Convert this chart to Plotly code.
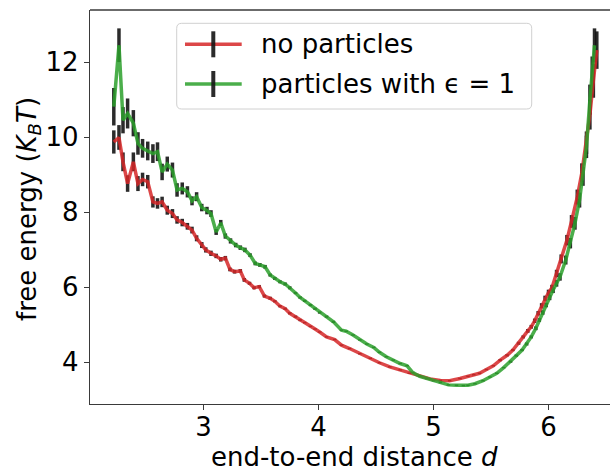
import plotly.graph_objects as go

# ---------------- data ----------------
d_none = [2.22, 2.265, 2.30, 2.34, 2.39, 2.43, 2.47, 2.515, 2.56, 2.60,
          2.64, 2.685, 2.73, 2.77, 2.815, 2.86, 2.90, 2.94, 2.985, 3.02,
          3.065, 3.11, 3.15, 3.19, 3.23, 3.27, 3.32, 3.355, 3.40, 3.44,
          3.485, 3.53, 3.58, 3.62, 3.665, 3.71, 3.75, 3.80, 3.84, 3.88,
          3.93, 3.97, 4.01, 4.07, 4.14, 4.20, 4.27, 4.36, 4.45, 4.53,
          4.62, 4.71, 4.79, 4.88, 4.97, 5.06, 5.14, 5.23, 5.30, 5.35,
          5.40, 5.46, 5.52, 5.58, 5.64, 5.69, 5.74, 5.78, 5.82, 5.85,
          5.88, 5.91, 5.94, 5.97, 6.00, 6.03, 6.07, 6.11, 6.16, 6.20,
          6.25, 6.29, 6.33, 6.36, 6.39, 6.42]
f_none = [9.87, 9.99, 9.34, 8.76, 9.34, 8.76, 8.87, 8.81, 8.27, 8.23,
          8.27, 8.05, 7.96, 7.79, 7.72, 7.62, 7.52, 7.30, 7.12, 6.99,
          6.90, 6.83, 6.74, 6.77, 6.47, 6.41, 6.43, 6.19, 6.10, 5.98,
          6.01, 5.76, 5.70, 5.62, 5.49, 5.42, 5.30, 5.21, 5.12, 5.05,
          4.95, 4.88, 4.80, 4.67, 4.60, 4.45, 4.36, 4.22, 4.10, 3.98,
          3.87, 3.79, 3.70, 3.63, 3.55, 3.51, 3.50, 3.56, 3.62, 3.66,
          3.70, 3.80, 3.90, 4.05, 4.18, 4.32, 4.50, 4.67, 4.83, 4.94,
          5.10, 5.30, 5.50, 5.70, 5.85, 5.98, 6.36, 6.75, 7.25, 7.75,
          8.40, 9.05, 9.85, 10.6, 11.5, 12.32]
e_none = [0.31, 0.33, 0.25, 0.22, 0.25, 0.20, 0.18, 0.18, 0.15, 0.14,
          0.14, 0.12, 0.12, 0.10, 0.10, 0.09, 0.09, 0.08, 0.08, 0.07,
          0.07, 0.06, 0.06, 0.06, 0.05, 0.05, 0.05, 0.05, 0.04, 0.04,
          0.04, 0.04, 0.04, 0.03, 0.03, 0.03, 0.03, 0.03, 0.03, 0.02,
          0.02, 0.02, 0.02, 0.02, 0.02, 0.02, 0.02, 0.02, 0.02, 0.02,
          0.02, 0.02, 0.02, 0.02, 0.02, 0.02, 0.02, 0.02, 0.02, 0.02,
          0.02, 0.02, 0.02, 0.03, 0.03, 0.03, 0.04, 0.04, 0.05, 0.05,
          0.06, 0.06, 0.07, 0.07, 0.08, 0.08, 0.10, 0.12, 0.14, 0.17,
          0.20, 0.25, 0.30, 0.40, 0.45, 0.50]

d_part = [2.22, 2.265, 2.30, 2.34, 2.39, 2.43, 2.47, 2.515, 2.56, 2.60,
          2.64, 2.685, 2.73, 2.77, 2.815, 2.86, 2.90, 2.94, 2.985, 3.03,
          3.065, 3.11, 3.15, 3.19, 3.235, 3.28, 3.32, 3.36, 3.405, 3.45,
          3.49, 3.535, 3.58, 3.62, 3.665, 3.71, 3.75, 3.80, 3.84, 3.88,
          3.93, 3.97, 4.01, 4.07, 4.13, 4.20, 4.24, 4.30, 4.36, 4.42,
          4.48, 4.53, 4.59, 4.65, 4.71, 4.77, 4.82, 4.88, 4.94, 5.00,
          5.06, 5.13, 5.20, 5.26, 5.30, 5.36, 5.43, 5.49, 5.55, 5.61,
          5.67, 5.72, 5.77, 5.81, 5.85, 5.89, 5.92, 5.95, 5.98, 6.01,
          6.04, 6.07, 6.10, 6.15, 6.19, 6.23, 6.27, 6.30, 6.33, 6.36,
          6.38, 6.40]
f_part = [10.81, 12.45, 10.45, 10.63, 10.37, 9.83, 9.70, 9.63, 9.56, 9.61,
          9.07, 9.28, 9.12, 8.59, 8.63, 8.54, 8.30, 8.41, 8.12, 8.04,
          7.96, 7.47, 7.71, 7.36, 7.23, 7.12, 7.05, 6.99, 6.85, 6.63,
          6.59, 6.54, 6.32, 6.23, 6.14, 6.08, 5.98, 5.84, 5.72, 5.63,
          5.52, 5.42, 5.32, 5.21, 5.07, 4.85, 4.82, 4.72, 4.59, 4.48,
          4.39, 4.26, 4.14, 4.05, 3.96, 3.90, 3.72, 3.62, 3.56, 3.50,
          3.45, 3.39, 3.38, 3.37, 3.38, 3.42, 3.50, 3.60, 3.70, 3.85,
          4.01, 4.17, 4.32, 4.48, 4.67, 4.90, 5.12, 5.32, 5.52, 5.72,
          5.92, 6.10, 6.27, 6.72, 7.17, 7.70, 8.32, 8.95, 9.74, 11.0,
          11.7, 12.45]
e_part = [0.50, 0.45, 0.35, 0.40, 0.35, 0.30, 0.25, 0.25, 0.25, 0.25,
          0.22, 0.20, 0.20, 0.18, 0.16, 0.15, 0.12, 0.12, 0.10, 0.10,
          0.09, 0.08, 0.08, 0.07, 0.07, 0.06, 0.06, 0.06, 0.05, 0.05,
          0.05, 0.05, 0.04, 0.04, 0.04, 0.04, 0.04, 0.03, 0.03, 0.03,
          0.03, 0.03, 0.03, 0.03, 0.03, 0.02, 0.02, 0.02, 0.02, 0.02,
          0.02, 0.02, 0.02, 0.02, 0.02, 0.02, 0.02, 0.02, 0.02, 0.02,
          0.02, 0.02, 0.02, 0.02, 0.02, 0.02, 0.02, 0.02, 0.02, 0.02,
          0.03, 0.03, 0.03, 0.04, 0.04, 0.05, 0.05, 0.06, 0.06, 0.07,
          0.08, 0.09, 0.10, 0.12, 0.14, 0.17, 0.20, 0.25, 0.30, 0.40,
          0.45, 0.45]

series_names = ["no particles", "particles with \u03f5 = 1"]
x_ticks = [3, 4, 5, 6]
y_ticks = [4, 6, 8, 10, 12]

assert len(d_none) == len(f_none) == len(e_none)
assert len(d_part) == len(f_part) == len(e_part)

# ---------------- style ----------------
W, H = 610, 472
ML, MR, MT, MB = 90, 0, 10, 68
PW, PH = W - ML - MR, H - MT - MB
FONT = "DejaVu Sans"
FS = 26
RED = "rgba(214,39,40,0.85)"
GREEN = "rgba(44,160,44,0.85)"
ERRC = "rgba(20,20,20,0.9)"
SPINE = "#3a3a3a"
LW = 3.5


def px(xp):
    return (xp - ML) / PW


def py(yp):
    return (H - MB - yp) / PH


fig = go.Figure()

# error bars (drawn beneath the lines)
for d, f, e in [(d_none, f_none, e_none), (d_part, f_part, e_part)]:
    fig.add_trace(go.Scatter(
        x=d, y=f, mode="markers",
        marker=dict(size=1, color="rgba(0,0,0,0)"),
        error_y=dict(type="data", array=e, color=ERRC, thickness=3.5, width=0),
        showlegend=False, hoverinfo="skip"))

for d, f, c, n in [(d_none, f_none, RED, series_names[0]),
                   (d_part, f_part, GREEN, series_names[1])]:
    fig.add_trace(go.Scatter(x=d, y=f, mode="lines", name=n,
                             line=dict(color=c, width=LW), showlegend=False))

axis_common = dict(
    showgrid=False, zeroline=False, showline=True, linecolor=SPINE,
    linewidth=1.3, ticks="outside", ticklen=5, tickwidth=1.3,
    tickcolor=SPINE, tickfont=dict(family=FONT, size=FS, color="black"),
    mirror=False)

fig.update_xaxes(range=[2.013, 2.013 + PW / 115.0], tickvals=x_ticks,
                 ticklabelstandoff=-5, **axis_common)
fig.update_yaxes(range=[2.88, 13.39], tickvals=y_ticks, **axis_common)

shapes = []
# top spine
shapes.append(dict(type="line", xref="paper", yref="paper", x0=0, x1=1,
                   y0=1, y1=1, line=dict(color=SPINE, width=1.3)))

# legend box with rounded corners
bx0, bx1, by0, by1 = 176.7, 531.7, 23.3, 109.0
r = 5
path = (f"M {px(bx0 + r)},{py(by0)} L {px(bx1 - r)},{py(by0)} "
        f"Q {px(bx1)},{py(by0)} {px(bx1)},{py(by0 + r)} "
        f"L {px(bx1)},{py(by1 - r)} Q {px(bx1)},{py(by1)} {px(bx1 - r)},{py(by1)} "
        f"L {px(bx0 + r)},{py(by1)} Q {px(bx0)},{py(by1)} {px(bx0)},{py(by1 - r)} "
        f"L {px(bx0)},{py(by0 + r)} Q {px(bx0)},{py(by0)} {px(bx0 + r)},{py(by0)} Z")
shapes.append(dict(type="path", xref="paper", yref="paper", path=path,
                   fillcolor="rgba(255,255,255,0.8)",
                   line=dict(color="#d0d0d0", width=1)))

annotations = []
for yc, c, n in [(44.3, RED, series_names[0]), (84.0, GREEN, series_names[1])]:
    shapes.append(dict(type="line", xref="paper", yref="paper",
                       x0=px(185), x1=px(241.7), y0=py(yc), y1=py(yc),
                       line=dict(color=c, width=LW)))
    shapes.append(dict(type="line", xref="paper", yref="paper",
                       x0=px(213.3), x1=px(213.3), y0=py(yc - 13), y1=py(yc + 13),
                       line=dict(color=ERRC, width=4)))
    annotations.append(dict(xref="paper", yref="paper", x=px(259), y=py(yc),
                            xanchor="left", yanchor="middle", text=n,
                            showarrow=False,
                            font=dict(family=FONT, size=FS, color="black")))

# axis titles
annotations.append(dict(xref="paper", yref="paper", x=px(354), y=py(457),
                        xanchor="center", yanchor="middle",
                        text="end-to-end distance <i>d</i>", showarrow=False,
                        font=dict(family=FONT, size=FS, color="black")))
annotations.append(dict(xref="paper", yref="paper", x=px(28), y=py(209),
                        xanchor="center", yanchor="middle", textangle=-90,
                        text="free energy (<i>K</i><sub><i>B</i></sub><i>T</i>)",
                        showarrow=False,
                        font=dict(family=FONT, size=FS, color="black")))

fig.update_layout(
    width=W, height=H, margin=dict(l=ML, r=MR, t=MT, b=MB),
    paper_bgcolor="white", plot_bgcolor="white",
    shapes=shapes, annotations=annotations, showlegend=False,
    font=dict(family=FONT, size=FS, color="black"))

fig.write_html("out.html")
